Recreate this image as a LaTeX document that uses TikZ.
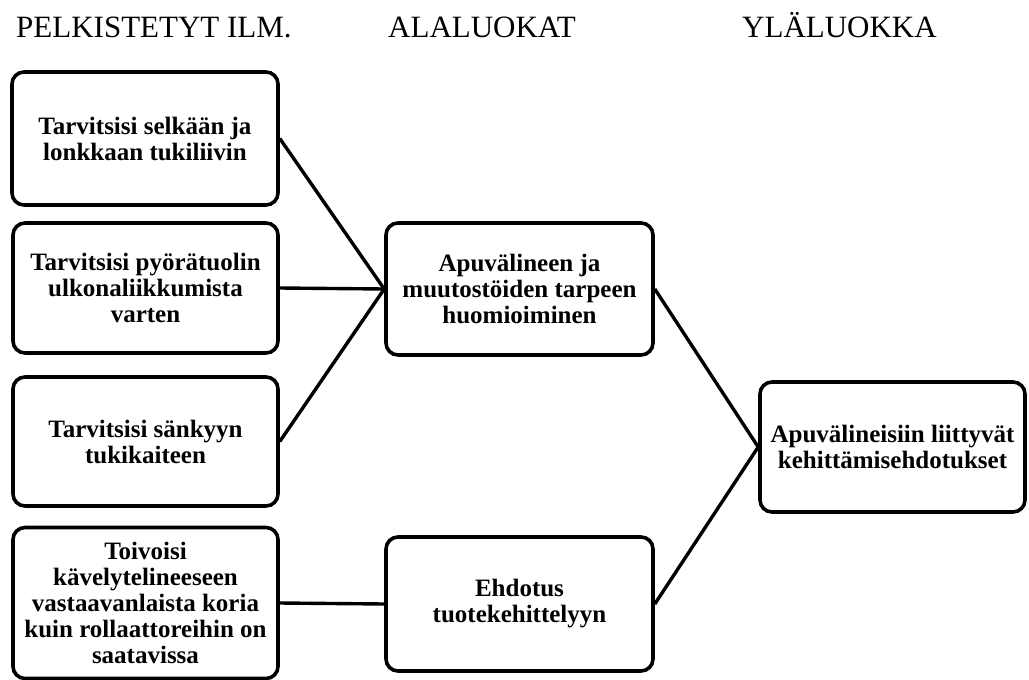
\documentclass[tikz,border=0pt]{standalone}
\usepackage{fontspec}
\setmainfont{Liberation Serif}
\begin{document}
\begin{tikzpicture}[x=1pt,y=-1pt,
  box/.style={draw=black, line width=3.6pt, rounded corners=12pt, fill=white,
    align=center, inner sep=0pt,
    font=\fontsize{25}{26}\selectfont\bfseries},
  link/.style={draw=black, line width=3.4pt},
  head/.style={anchor=base west, inner sep=0pt, font=\fontsize{31}{31}\selectfont}]
\useasboundingbox (0,0) rectangle (1029,680);

% column headings
\node[head] (h1) at (16,37) {PELKISTETYT ILM.};
\node[head] (h2) at (388,37) {ALALUOKAT};
\node[head] (h3) at (742,37) {YLÄLUOKKA};

% simplified expressions
\node[box, minimum width=266pt, minimum height=133pt] (p1) at (145,138.5)
  {Tarvitsisi selkään ja\\lonkkaan tukiliivin};
\node[box, minimum width=265pt, minimum height=130pt] (p2) at (145.5,288)
  {Tarvitsisi pyörätuolin\\ulkonaliikkumista\\varten};
\node[box, minimum width=265pt, minimum height=129pt] (p3) at (145.5,441.5)
  {Tarvitsisi sänkyyn\\tukikaiteen};
\node[box, minimum width=265pt, minimum height=151pt] (p4) at (145.5,603)
  {Toivoisi\\kävelytelineeseen\\vastaavanlaista koria\\kuin rollaattoreihin on\\saatavissa};

% subcategories
\node[box, minimum width=267pt, minimum height=132pt] (s1) at (519.5,289)
  {Apuvälineen ja\\muutostöiden tarpeen\\huomioiminen};
\node[box, minimum width=267pt, minimum height=134pt] (s2) at (519.5,604)
  {Ehdotus\\tuotekehittelyyn};

% main category
\node[box, minimum width=265pt, minimum height=130pt] (m1) at (892.5,447)
  {Apuvälineisiin liittyvät\\kehittämisehdotukset};

% connections
\draw[link] (p1.east) -- (s1.west);
\draw[link] (p2.east) -- (s1.west);
\draw[link] (p3.east) -- (s1.west);
\draw[link] (p4.east) -- (s2.west);
\draw[link] (s1.east) -- (m1.west);
\draw[link] (s2.east) -- (m1.west);
\end{tikzpicture}
\end{document}
